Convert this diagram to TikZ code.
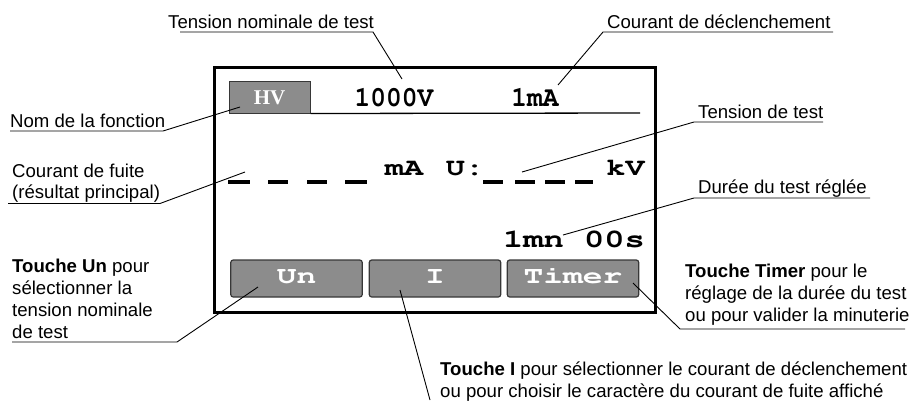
\documentclass[tikz,border=0pt]{standalone}
\usepackage[T1]{fontenc}
\usepackage{fontspec}
\setmainfont{Liberation Sans}
\newfontfamily\hvfont{Liberation Serif}
\newcommand\crb{\fontencoding{T1}\fontfamily{pcr}\fontseries{b}\fontshape{n}\selectfont}
\definecolor{keygray}{RGB}{140,140,140}
\definecolor{edgegray}{RGB}{55,55,55}
\tikzset{
  lbl/.style={anchor=base west, inner sep=0pt, font=\fontsize{18.6}{22}\selectfont},
  leader/.style={line width=0.9pt, black},
  screen/.style={draw, line width=3pt, minimum width=441pt, minimum height=245pt, inner sep=0pt},
  hvbox/.style={draw=edgegray, fill=keygray, line width=1pt, minimum width=81pt, minimum height=32pt,
                inner sep=0pt, text height=14pt, text depth=0pt, text=white, font=\hvfont\bfseries\fontsize{21}{23}\selectfont},
  sepline/.style={line width=1.3pt, black},
  lcdtop/.style={anchor=base, inner sep=0pt, font={\crb\fontsize{28.5}{30}\selectfont}},
  lcdmid/.style={anchor=base, inner sep=0pt, font={\crb\fontsize{24.5}{26}\selectfont}},
  lcdtime/.style={anchor=base, inner sep=0pt, font={\crb\fontsize{26}{28}\selectfont}},
  dashbar/.style={line width=3.3pt},
  keybtn/.style={draw=edgegray, fill=keygray, line width=1.2pt, rounded corners=2.5pt,
                 minimum width=131.5pt, minimum height=37pt, inner sep=0pt,
                 text height=12pt, text depth=3pt, text=white, font={\crb\fontsize{24}{26}\selectfont}},
}
\begin{document}
\begin{tikzpicture}[x=1pt,y=-1pt]
\useasboundingbox (0,0) rectangle (915,400);

% ---- display ----
\node[screen] (scr) at (434.5,189.5) {};
\node[hvbox] (hv) at (269.5,97) {HV};
\coordinate (sepend) at (640,113);
\draw[sepline] (hv.south east) -- (sepend);

\node[lcdtop] (v1000) at (394,106) {\scalebox{0.92}[1]{1000V}};
\node[lcdtop] (i1ma) at (535,106) {\scalebox{0.92}[1]{1mA}};

\foreach \a/\b in {228/250, 268/288, 307/327, 345/367, 483/503, 515/535, 545/565, 575/593}
  \draw[dashbar] (\a,182) -- (\b,182);

\node[lcdmid] (ma) at (404,175) {\scalebox{1.3}[1]{mA}};
\node[lcdmid] (ucol) at (465,175) {\scalebox{1.3}[1]{U:}};
\node[lcdmid] (kv) at (625.5,175) {\scalebox{1.3}[1]{kV}};

\node[lcdtime] (dur) at (574,247) {\scalebox{1.3}[1]{1mn 00s}};

\node[keybtn] (kun) at (296.5,278.5) {\scalebox{1.37}[1]{Un}};
\node[keybtn] (ki) at (435,278.5) {\scalebox{1.37}[1]{I}};
\node[keybtn] (ktimer) at (573,278.5) {\scalebox{1.37}[1]{Timer}};

% ---- leader targets ----
\coordinate (t1) at (402,79);
\coordinate (t2) at (558,85);
\coordinate (t3) at (240,107);
\coordinate (t4) at (245,172);
\coordinate (t5) at (522,172);
\coordinate (t6) at (563,235);
\coordinate (t7) at (258,287);
\coordinate (t8) at (633,283);
\coordinate (t9) at (400,290);

% ---- labels ----
\node[lbl] (l1) at (168,28) {Tension nominale de test};
\coordinate (u1a) at (180,32); \coordinate (u1b) at (373,32);
\draw[leader] (u1a) -- (u1b) -- (t1);

\node[lbl] (l2) at (607,28) {Courant de déclenchement};
\coordinate (u2a) at (833,32); \coordinate (u2b) at (603,32);
\draw[leader] (u2a) -- (u2b) -- (t2);

\node[lbl] (l3) at (10,127) {Nom de la fonction};
\coordinate (u3a) at (10,131); \coordinate (u3b) at (163,131);
\draw[leader] (u3a) -- (u3b) -- (t3);

\node[lbl] (l4a) at (12,177) {Courant de fuite};
\node[lbl] (l4b) at (12,198) {(résultat principal)};
\coordinate (u4a) at (8,203.5); \coordinate (u4b) at (160,203.5);
\draw[leader] (u4a) -- (u4b) -- (t4);

\node[lbl] (l5) at (698,118) {Tension de test};
\coordinate (u5a) at (823,122); \coordinate (u5b) at (694,122);
\draw[leader] (u5a) -- (u5b) -- (t5);

\node[lbl] (l6) at (698,193) {Durée du test réglée};
\coordinate (u6a) at (870,198); \coordinate (u6b) at (694,198);
\draw[leader] (u6a) -- (u6b) -- (t6);

\node[lbl] (l7a) at (12,272) {\textbf{Touche Un} pour};
\node[lbl] (l7b) at (12,294) {sélectionner la};
\node[lbl] (l7c) at (12,316) {tension nominale};
\node[lbl] (l7d) at (12,338) {de test};
\coordinate (u7a) at (12,342); \coordinate (u7b) at (177,342);
\draw[leader] (u7a) -- (u7b) -- (t7);

\node[lbl] (l8a) at (685,277) {\textbf{Touche Timer} pour le};
\node[lbl] (l8b) at (685,299) {réglage de la durée du test};
\node[lbl] (l8c) at (685,321) {ou pour valider la minuterie};
\coordinate (u8a) at (905,329); \coordinate (u8b) at (680,329);
\draw[leader] (u8a) -- (u8b) -- (t8);

\node[lbl] (l9a) at (440,375) {\textbf{Touche I} pour sélectionner le courant de déclenchement};
\node[lbl] (l9b) at (440,397) {ou pour choisir le caractère du courant de fuite affiché};
\coordinate (u9) at (430,400);
\draw[leader] (u9) -- (t9);
\end{tikzpicture}
\end{document}
